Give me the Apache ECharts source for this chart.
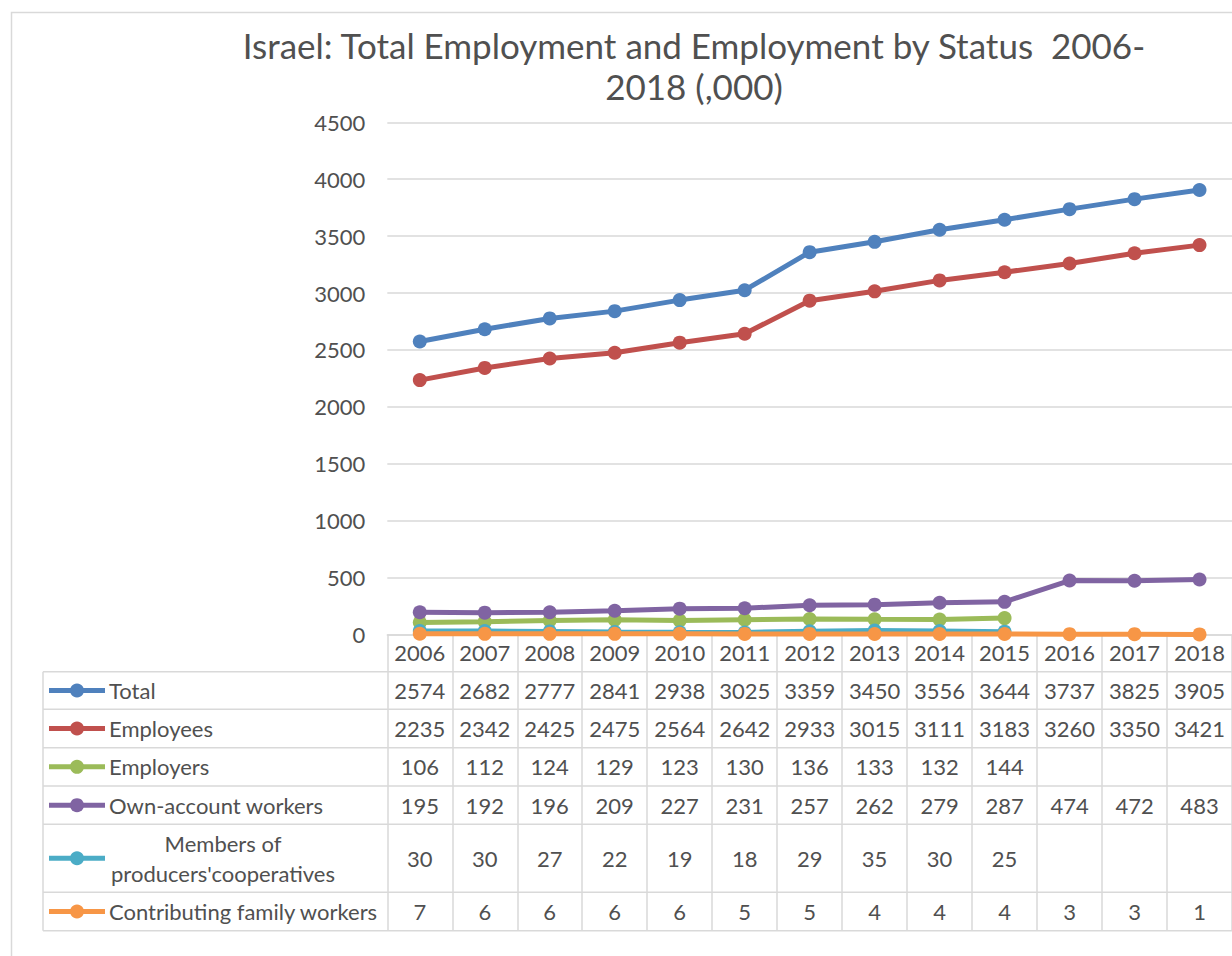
<!DOCTYPE html>
<html><head><meta charset="utf-8">
<script src="https://cdn.jsdelivr.net/npm/echarts@6/dist/echarts.min.js"></script>
<style>html,body{margin:0;padding:0;background:#fff}#c{width:1232px;height:956px}</style>
</head><body><div id="c"></div>
<script>
const years = ['2006','2007','2008','2009','2010','2011','2012','2013','2014','2015','2016','2017','2018'];
const total = [2574,2682,2777,2841,2938,3025,3359,3450,3556,3644,3737,3825,3905];
const employees = [2235,2342,2425,2475,2564,2642,2933,3015,3111,3183,3260,3350,3421];
const employers = [106,112,124,129,123,130,136,133,132,144,null,null,null];
const ownAccount = [195,192,196,209,227,231,257,262,279,287,474,472,483];
const members = [30,30,27,22,19,18,29,35,30,25,null,null,null];
const family = [7,6,6,6,6,5,5,4,4,4,3,3,1];
const seriesNames = ['Total','Employees','Employers','Own-account workers',"Members of producers'cooperatives",'Contributing family workers'];
const seriesLabels = ['Total','Employees','Employers','Own-account workers',"Members of\nproducers'cooperatives",'Contributing family workers'];
const seriesData = [total, employees, employers, ownAccount, members, family];
const colors = ['#4F81BD','#C0504D','#9BBB59','#8064A2','#4BACC6','#F79646'];
const yMin = 0, yMax = 4500, yStep = 500;
const titleText = 'Israel: Total Employment and Employment by Status  2006-\n2018 (,000)';

const FONT = 'Lato';
const TXT = '#505050';
const GRIDC = '#D9D9D9';
const FS = 22;
const chart = echarts.init(document.getElementById('c'), null, {renderer: 'svg'});

const gridTop = 122.3, gridH = 512.2, gridL = 387.3, gridW = 853;
const rowBounds = [671.7, 709.3, 747.7, 786, 824.3, 892.3, 930.7];
const tableBottom = rowBounds[rowBounds.length - 1];

chart.setOption({
  animation: false,
  textStyle: {fontFamily: FONT},
  grid: {left: gridL, top: gridTop, width: gridW, height: gridH, containLabel: false},
  xAxis: {
    type: 'category', data: years, boundaryGap: true,
    axisLine: {show: true, lineStyle: {color: GRIDC, width: 1.5}},
    axisTick: {show: true, interval: 0, length: tableBottom - (gridTop + gridH), lineStyle: {color: GRIDC, width: 1.5}},
    axisLabel: {show: true, interval: 0, color: TXT, fontSize: FS, fontFamily: FONT, margin: 7}
  },
  yAxis: {
    type: 'value', min: yMin, max: yMax, interval: yStep,
    axisLine: {show: false}, axisTick: {show: false},
    splitLine: {lineStyle: {color: GRIDC, width: 1.5}},
    axisLabel: {color: TXT, fontSize: FS, fontFamily: FONT, margin: 22, formatter: v => String(v)}
  },
  series: seriesData.map((d, i) => ({
    name: seriesNames[i], type: 'line', data: d,
    symbol: 'circle', symbolSize: 14, connectNulls: false,
    itemStyle: {color: colors[i]},
    lineStyle: {color: colors[i], width: 5},
    z: 2 + i
  }))
});

const g = [];
g.push({type: 'rect', shape: {x: 11.5, y: 12.5, width: 1400, height: 1100}, style: {fill: null, stroke: GRIDC, lineWidth: 1.5}, silent: true, z: 0});
g.push({type: 'text', x: 694, y: 24, style: {text: titleText, font: '35px ' + FONT, fill: TXT, align: 'center', verticalAlign: 'top', lineHeight: 41}, z: 10});
rowBounds.forEach(y => g.push({type: 'line', shape: {x1: 43, y1: y, x2: 1245, y2: y}, style: {stroke: GRIDC, lineWidth: 1.5}, z: 1}));
g.push({type: 'line', shape: {x1: 43, y1: rowBounds[0], x2: 43, y2: tableBottom}, style: {stroke: GRIDC, lineWidth: 1.5}, z: 1});
const xs = years.map((y, i) => chart.convertToPixel({xAxisIndex: 0}, i));
seriesData.forEach((d, r) => {
  const cy = (rowBounds[r] + rowBounds[r + 1]) / 2;
  g.push({type: 'line', shape: {x1: 49, y1: cy, x2: 105, y2: cy}, style: {stroke: colors[r], lineWidth: 5}, z: 5});
  g.push({type: 'circle', shape: {cx: 77, cy: cy, r: 7}, style: {fill: colors[r]}, z: 6});
  const multi = seriesLabels[r].indexOf('\n') >= 0;
  g.push({type: 'text', x: multi ? 223 : 109, y: cy, style: {text: seriesLabels[r], font: FS + 'px ' + FONT, fill: TXT, align: multi ? 'center' : 'left', verticalAlign: 'middle', lineHeight: 30}, z: 5});
  d.forEach((v, i) => {
    if (v === null || v === undefined) return;
    g.push({type: 'text', x: xs[i], y: cy, style: {text: String(v), font: FS + 'px ' + FONT, fill: TXT, align: 'center', verticalAlign: 'middle'}, z: 5});
  });
});
chart.setOption({graphic: g});
</script></body></html>
